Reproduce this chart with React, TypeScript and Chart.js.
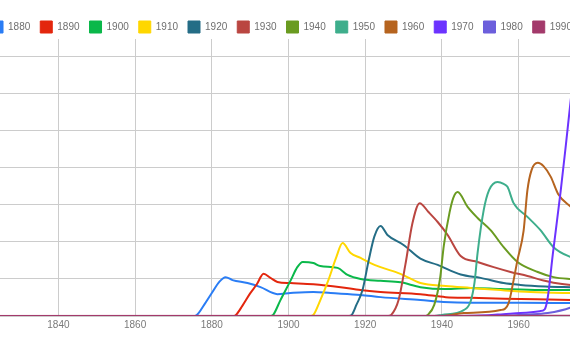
import { useEffect, useRef } from 'react';
import { Chart, registerables } from 'chart.js';

Chart.register(...registerables);

// ---- data ----
const seriesNames = ['1880', '1890', '1900', '1910', '1920', '1930', '1940', '1950', '1960', '1970', '1980', '1990'];
const seriesColors = ['#2a7df5', '#e3260d', '#0ab84a', '#ffd700', '#246d86', '#ba4641', '#6a9b21', '#3eae8c', '#b6641f', '#6c33ff', '#6c5fdc', '#a33a6b'];

const xTickYears = [1820, 1840, 1860, 1880, 1900, 1920, 1940, 1960, 1980];
const yGridValues = [0, 10, 20, 30, 40, 50, 60, 70];
const xMin = 1800;
const xMax = 2000;
const yMax = 74.86;

const s1880: [number, number][] = [[1800, 0], [1875, 0], [1876, 0.2], [1878, 3], [1880, 6.2], [1882, 9.3], [1883.6, 10.5], [1885.4, 9.7], [1889.3, 8.9], [1892.7, 7.8], [1897.1, 5.9], [1900.5, 6.2], [1906.5, 6.5], [1911, 6.2], [1918.8, 5.7], [1924, 5.1], [1934.4, 4.3], [1940.4, 3.8], [1947.5, 3.6], [1960.5, 3.6], [1973.6, 3.5], [1985, 3.4]];
const s1890: [number, number][] = [[1800, 0], [1885.5, 0], [1886.3, 0.3], [1888, 2.8], [1890, 6.1], [1891.7, 8.5], [1893.5, 11.4], [1895.3, 10.3], [1897.1, 9.2], [1900.5, 8.9], [1906.5, 8.6], [1913.6, 7.8], [1918.8, 7.0], [1924, 6.5], [1934.4, 5.9], [1941, 5.1], [1947.5, 4.9], [1960.5, 4.6], [1973.6, 4.3], [1985, 4.2]];
const s1900: [number, number][] = [[1800, 0], [1895.3, 0], [1896, 0.3], [1897.9, 4.3], [1900.5, 9.5], [1902.3, 13.2], [1903.7, 14.6], [1906.5, 14.3], [1908.3, 13.5], [1912.8, 13.0], [1915.4, 11.1], [1918.8, 10.0], [1924, 9.5], [1929.2, 9.1], [1934.4, 7.8], [1941, 7.3], [1947.5, 7.6], [1955.3, 7.3], [1965.7, 7.0], [1973.6, 7.0], [1985, 6.8]];
const s1910: [number, number][] = [[1800, 0], [1905.8, 0], [1906.5, 0.3], [1908.3, 4.3], [1910.4, 9.7], [1912.4, 15.7], [1914.1, 19.7], [1916.2, 17.0], [1918.8, 15.7], [1921.4, 14.3], [1924, 13.2], [1929.2, 11.4], [1934.4, 8.9], [1941, 8.1], [1947.5, 7.6], [1955.3, 7.0], [1963.1, 6.5], [1973.6, 6.2], [1985, 6.0]];
const s1920: [number, number][] = [[1800, 0], [1915.8, 0], [1916.5, 0.3], [1917.7, 3], [1919.3, 7], [1920.9, 15], [1922.4, 21.5], [1924, 24.3], [1925.8, 21.9], [1930, 19.2], [1934.4, 15.5], [1938.9, 13.8], [1944.9, 11.2], [1950.1, 10.3], [1956.1, 8.9], [1960.5, 8.4], [1967, 8.0], [1973.6, 7.8], [1985, 7.5]];
const s1930: [number, number][] = [[1800, 0], [1926, 0], [1926.8, 0.3], [1928.7, 4.3], [1930.5, 14], [1932.3, 25], [1934.2, 30.5], [1936.5, 28.1], [1938.9, 25.4], [1941.5, 21.9], [1944.9, 16.2], [1949.3, 14.6], [1953.5, 13.2], [1957.9, 11.9], [1962.3, 10.8], [1966.5, 9.6], [1969.1, 9.0], [1973.6, 8.4], [1985, 8.0]];
const s1940: [number, number][] = [[1800, 0], [1935.5, 0], [1936.3, 0.3], [1938, 3], [1939.5, 10], [1940.5, 19], [1942, 28], [1943, 32], [1944.1, 33.5], [1946.7, 29.5], [1949.3, 26.5], [1952.7, 23.2], [1956.1, 18.6], [1959.7, 14.6], [1965, 11.9], [1969.1, 10.5], [1973.6, 10], [1985, 9.5]];
const s1950: [number, number][] = [[1800, 0], [1938, 0], [1940, 0.3], [1945.7, 1.6], [1947.5, 4], [1948.5, 9], [1949.3, 17], [1950.9, 28.6], [1952.3, 34], [1954.5, 36.2], [1956.1, 35.7], [1957.1, 34.9], [1958.7, 30.5], [1962.3, 26.8], [1965.7, 23.2], [1969.1, 18.6], [1973.6, 15.9], [1985, 12]];
const s1960: [number, number][] = [[1800, 0], [1940, 0], [1945.7, 0.8], [1955.3, 1.6], [1957.4, 3.5], [1958.7, 9.7], [1959.7, 15.1], [1961.3, 23], [1962.3, 34], [1963.4, 39.5], [1965, 41.4], [1966.5, 40.5], [1968.4, 37.6], [1970.3, 33], [1973.6, 29.5], [1985, 20]];
const s1970: [number, number][] = [[1800, 0], [1945, 0], [1952, 0.2], [1956, 0.5], [1960.5, 0.8], [1965.5, 1.3], [1966.8, 1.8], [1967.6, 5], [1968.9, 16.5], [1971, 34], [1972.3, 46], [1973.6, 58.4], [1975, 71], [1977, 90], [1985, 100]];
const s1980: [number, number][] = [[1800, 0], [1955, 0], [1962, 0.4], [1967.6, 0.8], [1973.6, 2.3], [1976, 3.5], [1985, 20]];
const s1990: [number, number][] = [[1800, 0], [1975, 0.1], [1988, 3]];

const seriesPoints = [s1880, s1890, s1900, s1910, s1920, s1930, s1940, s1950, s1960, s1970, s1980, s1990];

const FONT = "'Liberation Sans', Arial, sans-serif";

const legendTrim = {
  id: 'legendTrim',
  afterInit(chart: any) {
    const lg = chart.legend;
    if (lg && !lg.__trimmed) {
      const fit = lg.fit.bind(lg);
      lg.fit = () => {
        fit();
        lg.height -= 4;
      };
      lg.__trimmed = true;
    }
  },
};

export default function App() {
  const ref = useRef<HTMLCanvasElement>(null);

  useEffect(() => {
    const canvas = ref.current;
    if (!canvas) return;
    const chart = new Chart(canvas, {
      type: 'line',
      data: {
        datasets: seriesNames.map((name, i) => ({
          label: name,
          data: seriesPoints[i].map(([x, y]) => ({ x, y })),
          borderColor: seriesColors[i],
          backgroundColor: seriesColors[i],
          borderWidth: 2,
          pointRadius: 0,
          pointHoverRadius: 0,
          cubicInterpolationMode: 'monotone' as const,
          fill: false,
          order: seriesNames.length - 1 - i,
        })),
      },
      options: {
        responsive: false,
        maintainAspectRatio: false,
        animation: false,
        devicePixelRatio: 1,
        events: [],
        layout: { padding: { top: 11, bottom: 16, left: 0, right: 0 } },
        plugins: {
          tooltip: { enabled: false },
          legend: {
            display: true,
            position: 'top',
            align: 'center',
            labels: {
              boxWidth: 12,
              boxHeight: 12,
              padding: 10,
              color: '#6f6f6f',
              font: { size: 10, family: FONT },
              sort: (a: any, b: any) => a.datasetIndex - b.datasetIndex,
              generateLabels: (c: any) =>
                (Chart.defaults.plugins.legend.labels.generateLabels as any)(c).map((l: any) => ({ ...l, lineWidth: 1 })),
            },
          },
        },
        scales: {
          x: {
            type: 'linear',
            min: xMin,
            max: xMax,
            afterBuildTicks: (scale: any) => {
              scale.ticks = xTickYears.map((v) => ({ value: v }));
            },
            ticks: {
              color: '#7a7a7a',
              font: { size: 10, family: FONT },
              padding: 3,
              maxRotation: 0,
              autoSkip: false,
              callback: (v: any) => String(v),
            },
            grid: { color: '#cccccc', drawTicks: false, lineWidth: 1 },
            border: { display: true, color: '#cccccc' },
          },
          y: {
            type: 'linear',
            min: 0,
            max: yMax,
            afterBuildTicks: (scale: any) => {
              scale.ticks = yGridValues.map((v) => ({ value: v }));
            },
            afterFit: (scale: any) => {
              scale.width = 14;
            },
            ticks: { display: false },
            grid: { color: '#cccccc', drawTicks: false, lineWidth: 1 },
            border: { display: false },
          },
        },
      },
      plugins: [legendTrim],
    } as any);
    return () => chart.destroy();
  }, []);

  return (
    <div style={{ position: 'fixed', left: 0, top: 0, width: 570, height: 350, overflow: 'hidden', background: '#ffffff' }}>
      <div style={{ position: 'absolute', left: -109, top: 0, width: 781, height: 350 }}>
        <canvas ref={ref} width={781} height={350} style={{ display: 'block', width: 781, height: 350 }} />
      </div>
    </div>
  );
}
